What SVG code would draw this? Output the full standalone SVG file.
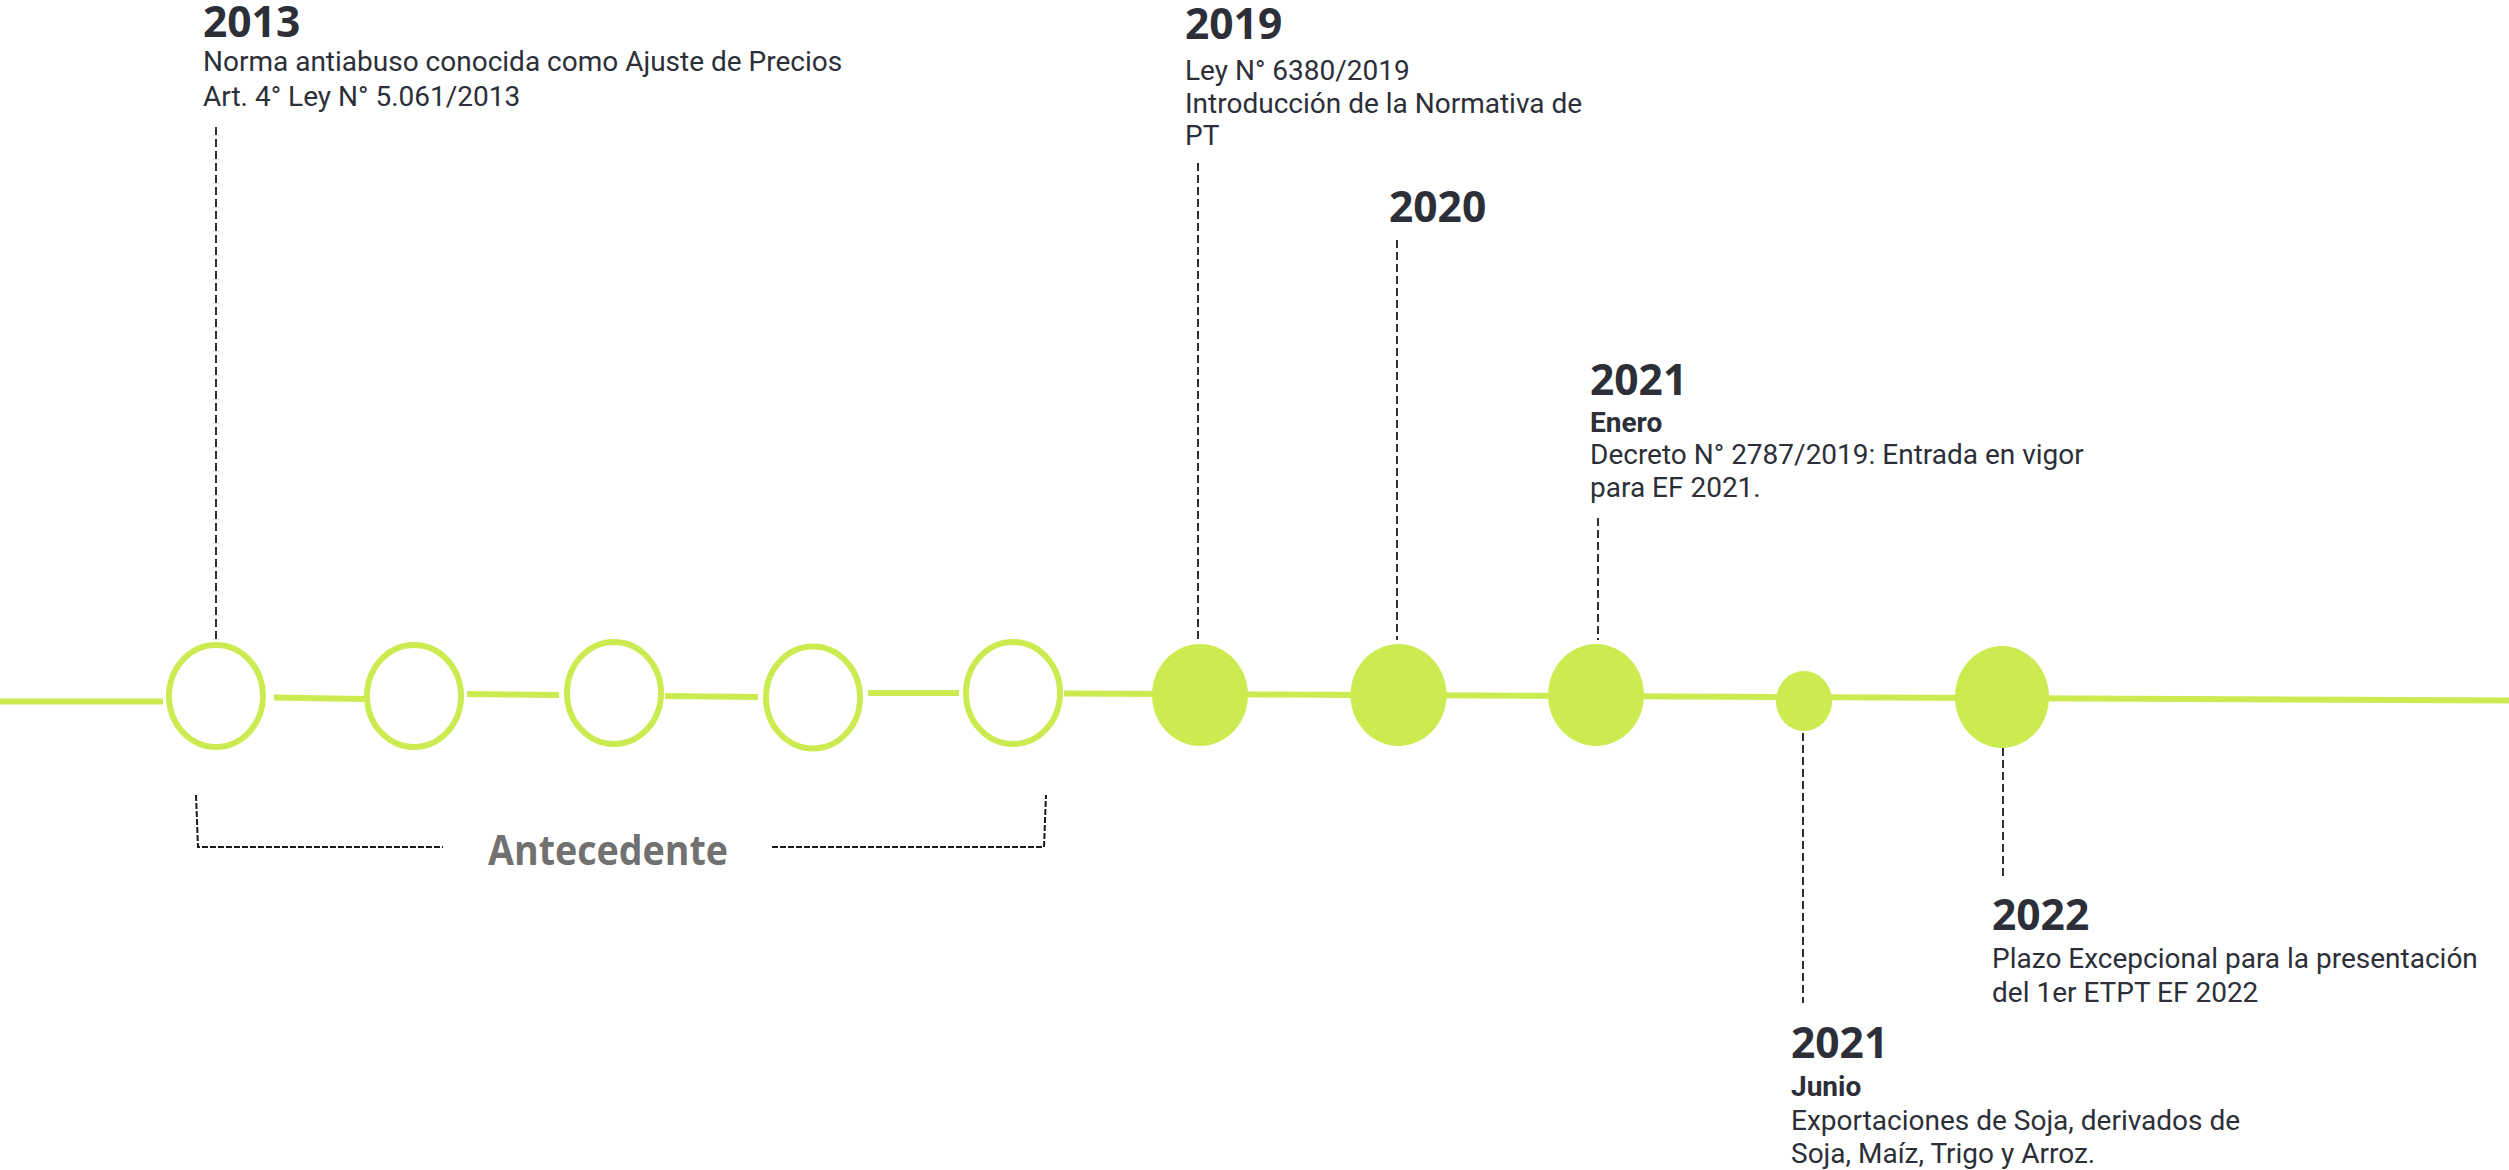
<svg xmlns="http://www.w3.org/2000/svg" width="2509" height="1170" viewBox="0 0 2509 1170">
  <style>
    .yr { font-family: "Open Sans", "DejaVu Sans", sans-serif; font-weight: 700; font-size: 42.5px; fill: #2c2f38; }
    .tx { font-family: Roboto, "Liberation Sans", sans-serif; font-weight: 400; font-size: 28px; fill: #2c2f38; }
    .tb { font-family: Roboto, "Liberation Sans", sans-serif; font-weight: 700; font-size: 28px; fill: #2c2f38; }
    .ante { font-family: "Open Sans", "DejaVu Sans", sans-serif; font-weight: 700; font-size: 42px; fill: #717171; }
    .rail { stroke: #cbeb51; stroke-width: 6; fill: none; }
    .ring { stroke: #cbeb51; stroke-width: 6; fill: #ffffff; }
    .dot { fill: #cbeb51; }
    .lead { stroke: #2c2f38; stroke-width: 2; stroke-dasharray: 8 4; fill: none; }
    .brk { stroke: #1a1a1a; stroke-width: 2; stroke-dasharray: 6 2; fill: none; }
  </style>

  <!-- timeline rail -->
  <g id="connectors">
    <line class="rail" x1="0" y1="701.5" x2="163" y2="701.5"/>
    <line class="rail" x1="274" y1="697.5" x2="364" y2="699"/>
    <line class="rail" x1="467" y1="694" x2="559" y2="695"/>
    <line class="rail" x1="665" y1="696" x2="758" y2="697"/>
    <line class="rail" x1="868" y1="693" x2="959" y2="693"/>
    <line class="rail" x1="1064" y1="693.5" x2="2509" y2="700.5"/>

    <!-- leader lines -->
    <line class="lead" x1="216" y1="127" x2="216" y2="640"/>
    <line class="lead" x1="1198" y1="163" x2="1198" y2="640"/>
    <line class="lead" x1="1397" y1="240" x2="1397" y2="640"/>
    <line class="lead" x1="1598" y1="518" x2="1598" y2="640"/>
    <line class="lead" x1="1803" y1="733" x2="1803" y2="1003"/>
    <line class="lead" x1="2003" y1="748" x2="2003" y2="878"/>

    <!-- bracket -->
    <polyline class="brk" points="196,795 198,847 443,847"/>
    <polyline class="brk" points="772,847 1044,847 1046,795"/>
  </g>

  <!-- earlier milestones (rings) -->
  <g id="ring-1"><ellipse class="ring" cx="216" cy="696" rx="47" ry="51"/></g>
  <g id="ring-2"><ellipse class="ring" cx="414" cy="696" rx="47" ry="51"/></g>
  <g id="ring-3"><ellipse class="ring" cx="614" cy="693" rx="47" ry="51"/></g>
  <g id="ring-4"><ellipse class="ring" cx="813" cy="697.5" rx="47" ry="51"/></g>
  <g id="ring-5"><ellipse class="ring" cx="1013" cy="693" rx="47" ry="51"/></g>

  <!-- later milestones (filled) -->
  <g id="dot-2019"><ellipse class="dot" cx="1200" cy="695" rx="48" ry="51"/></g>
  <g id="dot-2020"><ellipse class="dot" cx="1398.5" cy="695" rx="48" ry="51"/></g>
  <g id="dot-2021-enero"><ellipse class="dot" cx="1596" cy="695" rx="48" ry="51"/></g>
  <g id="dot-2021-junio"><ellipse class="dot" cx="1804" cy="701" rx="28" ry="30"/></g>
  <g id="dot-2022"><ellipse class="dot" cx="2002" cy="697" rx="47" ry="51"/></g>

  <!-- labels -->
  <g id="label-2013">
    <text class="yr" x="203" y="37">2013</text>
    <text class="tx" x="203" y="70.5">Norma antiabuso conocida como Ajuste de Precios</text>
    <text class="tx" x="203" y="106">Art. 4° Ley N° 5.061/2013</text>
  </g>

  <g id="label-2019">
    <text class="yr" x="1185" y="39">2019</text>
    <text class="tx" x="1185" y="80">Ley N° 6380/2019</text>
    <text class="tx" x="1185" y="112.5">Introducción de la Normativa de</text>
    <text class="tx" x="1185" y="145">PT</text>
  </g>

  <g id="label-2020">
    <text class="yr" x="1389" y="222">2020</text>
  </g>

  <g id="label-2021-enero">
    <text class="yr" x="1590" y="395">2021</text>
    <text class="tb" x="1590" y="432">Enero</text>
    <text class="tx" x="1590" y="464">Decreto N° 2787/2019: Entrada en vigor</text>
    <text class="tx" x="1590" y="497">para EF 2021.</text>
  </g>

  <g id="label-2022">
    <text class="yr" x="1992" y="930">2022</text>
    <text class="tx" x="1992" y="968">Plazo Excepcional para la presentación</text>
    <text class="tx" x="1992" y="1002">del 1er ETPT EF 2022</text>
  </g>

  <g id="label-2021-junio">
    <text class="yr" x="1791" y="1058">2021</text>
    <text class="tb" x="1791" y="1096">Junio</text>
    <text class="tx" x="1791" y="1130">Exportaciones de Soja, derivados de</text>
    <text class="tx" x="1791" y="1163">Soja, Maíz, Trigo y Arroz.</text>
  </g>

  <g id="label-antecedente">
    <text class="ante" x="488" y="865" textLength="240" lengthAdjust="spacingAndGlyphs">Antecedente</text>
  </g>
</svg>
